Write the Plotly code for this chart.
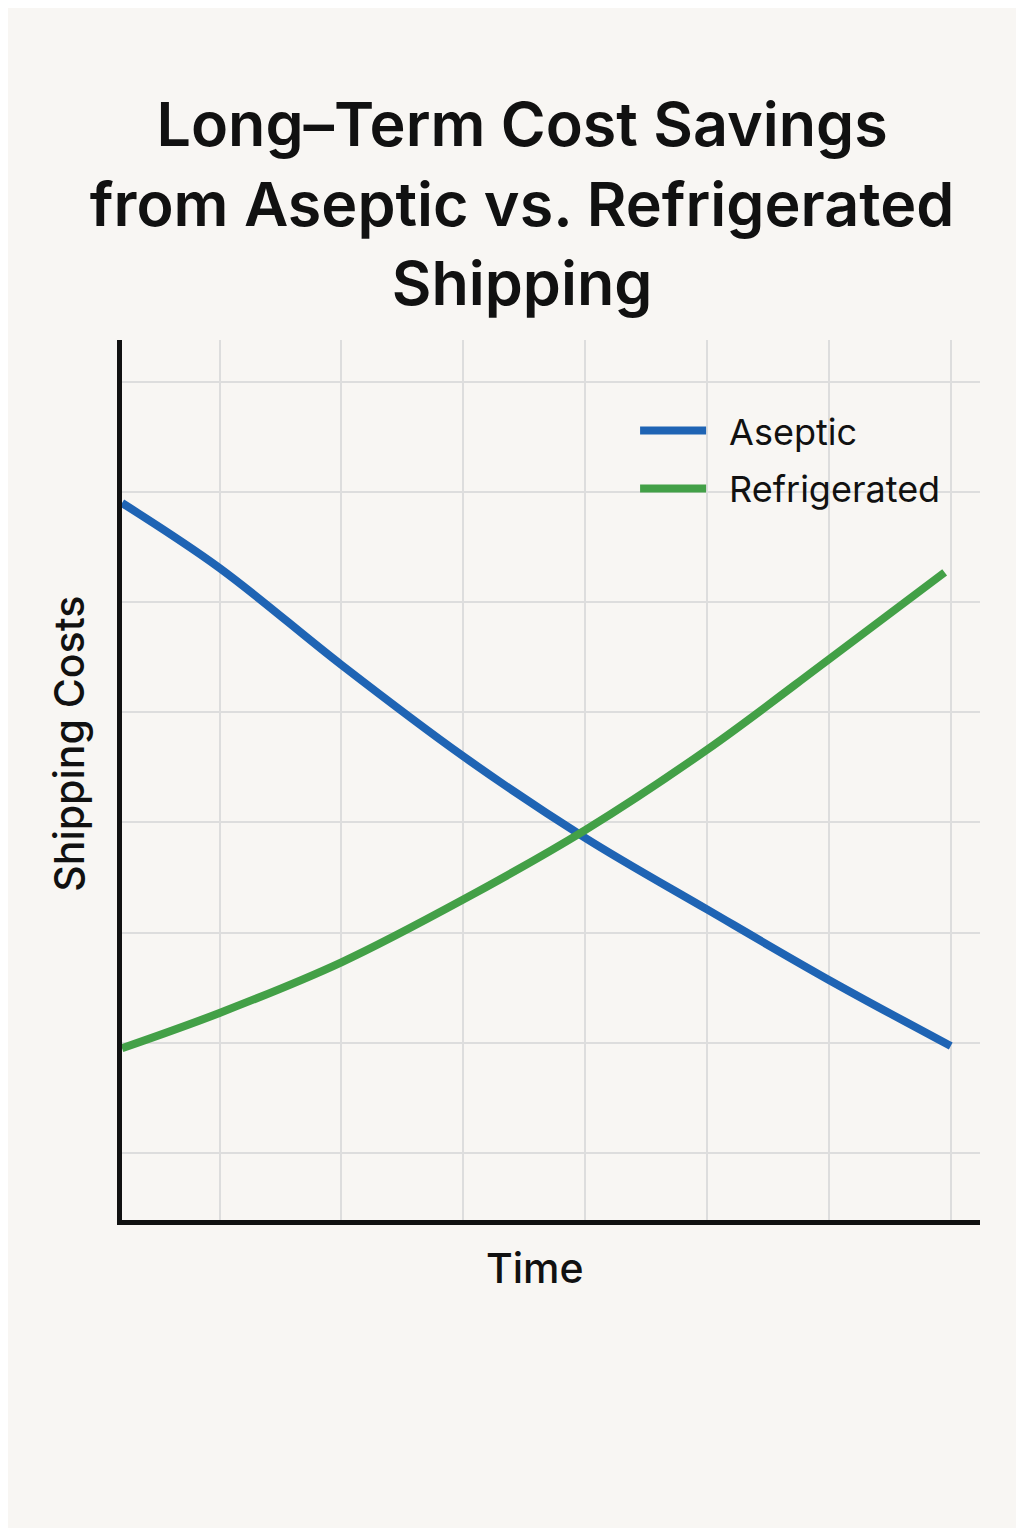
import plotly.graph_objects as go

time_aseptic = [0.2, 1, 2, 3, 4, 5, 6, 7]
aseptic_cost = [6.90, 6.31, 5.43, 4.60, 3.86, 3.21, 2.57, 1.97]
time_refrig = [0.2, 1, 2, 3, 4, 5, 6, 6.95]
refrig_cost = [1.95, 2.27, 2.73, 3.30, 3.93, 4.66, 5.48, 6.27]

x_grid = [1, 2, 3, 4, 5, 6, 7]
y_grid = [1, 2, 3, 4, 5, 6, 7, 8]

BG = "#f8f6f3"
FONT = "Inter, Roboto, sans-serif"
INK = "#111111"

W, H = 1008, 1520

fig = go.Figure()
fig.add_trace(go.Scatter(x=time_aseptic, y=aseptic_cost, mode="lines", name="\u2002Aseptic",
                         legendgroup="a",
                         line=dict(color="#1f64b4", width=8, shape="spline")))
fig.add_trace(go.Scatter(x=time_refrig, y=refrig_cost, mode="lines", name="\u2002Refrigerated",
                         legendgroup="r",
                         line=dict(color="#43a047", width=8, shape="spline")))

fig.update_layout(
    width=W, height=H,
    paper_bgcolor=BG, plot_bgcolor=BG,
    margin=dict(l=114, r=36, t=332, b=308),
    title=dict(text="Long–Term Cost Savings<br>from Aseptic vs. Refrigerated<br>Shipping",
               x=0.51, xanchor="center", y=0.909, yanchor="top",
               font=dict(family=FONT, size=61, color=INK, weight=600)),
    legend=dict(x=0.598, y=0.931, xanchor="left", yanchor="top",
                bgcolor="rgba(0,0,0,0)", font=dict(family=FONT, size=36, color=INK),
                itemwidth=66, tracegroupgap=8),
    font=dict(family=FONT, color=INK),
    annotations=[
        dict(text="Shipping Costs", xref="paper", yref="paper", x=-0.062, y=0.541,
             xanchor="center", yanchor="middle", textangle=-90, showarrow=False,
             font=dict(family=FONT, size=41, color=INK, weight=500)),
        dict(text="Time", xref="paper", yref="paper", x=0.481, y=-0.054,
             xanchor="center", yanchor="middle", showarrow=False,
             font=dict(family=FONT, size=41, color=INK, weight=500)),
    ],
)
fig.update_xaxes(range=[0.2, 7.24], tickvals=x_grid, showticklabels=False, ticks="",
                 showgrid=True, gridcolor="#dddddd", gridwidth=1.5, zeroline=False,
                 showline=True, linecolor=INK, linewidth=4.5)
fig.update_yaxes(range=[0.39, 8.38], tickvals=y_grid, showticklabels=False, ticks="",
                 showgrid=True, gridcolor="#dddddd", gridwidth=1.5, zeroline=False,
                 showline=True, linecolor=INK, linewidth=4.5)

fig.write_html("out.html")
